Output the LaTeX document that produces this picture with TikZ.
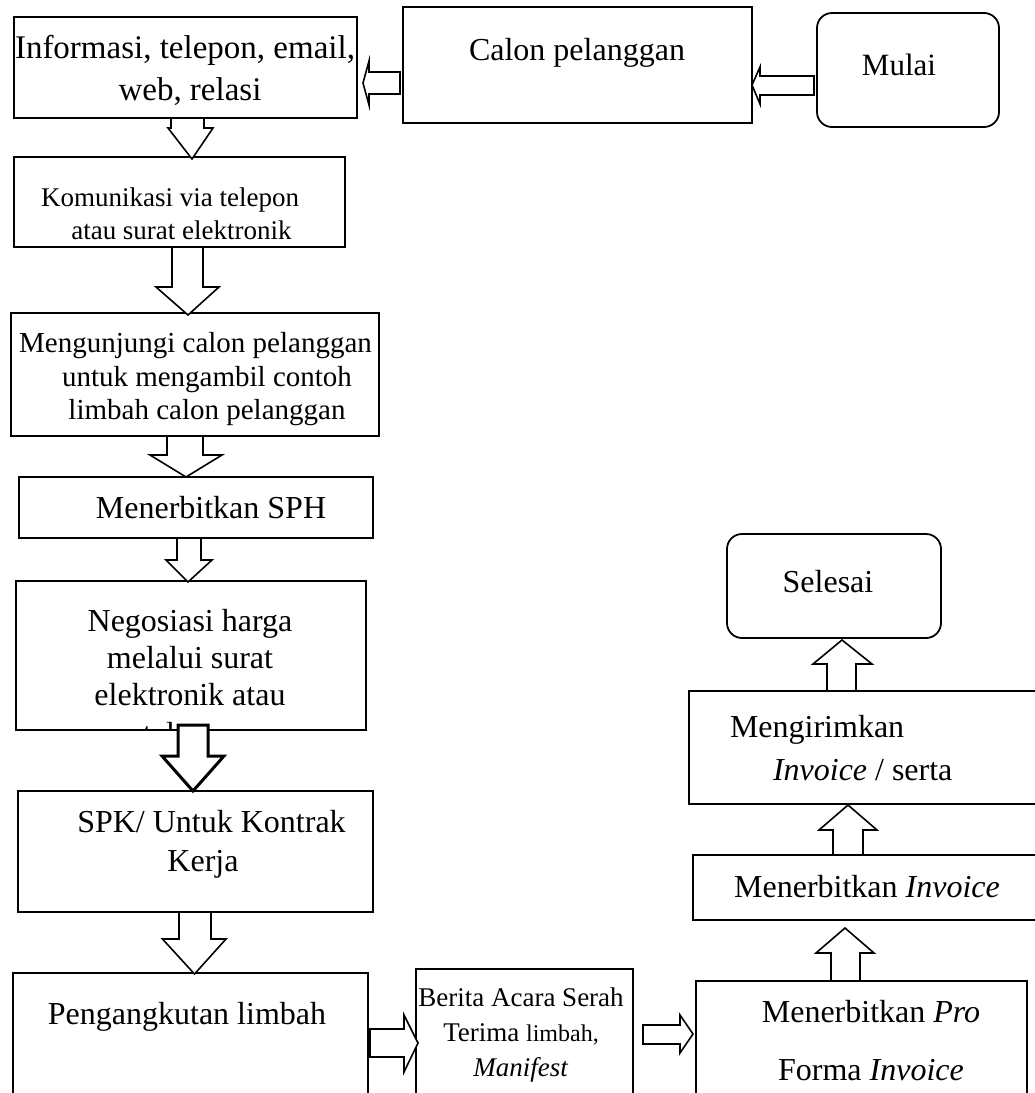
\documentclass[tikz,border=0pt]{standalone}
\usepackage{fontspec}
\setmainfont{Liberation Serif}
\usetikzlibrary{calc}
\tikzset{
  box/.style={draw, line width=1.8pt, inner sep=0pt, outer sep=0pt},
  rbox/.style={box, rounded corners=15pt},
  blk/.style={draw, fill=white, line width=1.6pt},
  blkthick/.style={blk, line width=3pt},
  txt/.style={inner sep=0pt, outer sep=0pt, align=center},
}
% down block arrow: A, B, shaft-left, shaft-right, start-dy, neck-dy, head-left, head-right, tip offset
\newcommand\myDn[9]{%
  ($(#1.south)+(#3,#5)$) -- ($(#1.south)+(#3,#6)$) -- ($(#1.south)+(#7,#6)$) --
  ($(#2.north)+(#9)$) -- ($(#1.south)+(#8,#6)$) -- ($(#1.south)+(#4,#6)$) --
  ($(#1.south)+(#4,#5)$) -- cycle}
% up block arrow
\newcommand\myUp[9]{%
  ($(#1.north)+(#3,#5)$) -- ($(#1.north)+(#3,#6)$) -- ($(#1.north)+(#7,#6)$) --
  ($(#2.south)+(#9)$) -- ($(#1.north)+(#8,#6)$) -- ($(#1.north)+(#4,#6)$) --
  ($(#1.north)+(#4,#5)$) -- cycle}
% left block arrow: A, B, start-dx, shaft-top, shaft-bottom, neck-dx, head-top, head-bottom, tip offset
\newcommand\myLt[9]{%
  ($(#1.west)+(#3,#4)$) -- ($(#1.west)+(#6,#4)$) -- ($(#1.west)+(#6,#7)$) --
  ($(#2.east)+(#9)$) -- ($(#1.west)+(#6,#8)$) -- ($(#1.west)+(#6,#5)$) --
  ($(#1.west)+(#3,#5)$) -- cycle}
% right block arrow
\newcommand\myRt[9]{%
  ($(#1.east)+(#3,#4)$) -- ($(#1.east)+(#6,#4)$) -- ($(#1.east)+(#6,#7)$) --
  ($(#2.west)+(#9)$) -- ($(#1.east)+(#6,#8)$) -- ($(#1.east)+(#6,#5)$) --
  ($(#1.east)+(#3,#5)$) -- cycle}
\begin{document}
\begin{tikzpicture}[x=1pt,y=1pt]
\useasboundingbox (0,0) rectangle (1035,-1093);
\clip (0,0) rectangle (1035,-1093);
\fill[white] (0,0) rectangle (1035,-1093);

% ---- boxes ----
\node[box, minimum width=343pt, minimum height=101pt] (info) at (185.5,-67.5) {};
\node[box, minimum width=349pt, minimum height=116pt] (calon) at (577.5,-65) {};
\node[rbox, minimum width=182pt, minimum height=114pt] (mulai) at (908,-70) {};
\node[box, minimum width=331pt, minimum height=90pt] (kom) at (179.5,-202) {};
\node[box, minimum width=368pt, minimum height=123pt] (meng) at (195,-374.5) {};
\node[box, minimum width=354pt, minimum height=61pt] (sph) at (196,-507.5) {};
\node[box, minimum width=350pt, minimum height=149pt] (nego) at (191,-655.5) {};
\node[box, minimum width=355pt, minimum height=121pt] (spk) at (195.5,-851.5) {};
\node[box, minimum width=355pt, minimum height=137pt] (peng) at (190.5,-1041.5) {};
\node[box, minimum width=217pt, minimum height=141pt] (berita) at (524.5,-1039.5) {};
\node[box, minimum width=331pt, minimum height=129pt] (pro) at (861.5,-1045.5) {};
\node[box, minimum width=352pt, minimum height=65pt] (minv) at (869,-887.5) {};
\node[box, minimum width=356pt, minimum height=113pt] (mkir) at (867,-747.5) {};
\node[rbox, minimum width=214pt, minimum height=104pt] (sel) at (834,-586) {};

% ---- texts ----
\node[txt, font=\fontsize{33}{42}\selectfont] (tinfo) at (185,-70)
  {Informasi, telepon, email,\\\hspace*{10pt}web, relasi};
\node[txt, font=\fontsize{32}{37}\selectfont] (tcalon) at (577,-53) {Calon pelanggan};
\node[txt, font=\fontsize{31}{37}\selectfont] (tmulai) at (899,-65) {Mulai};
\node[txt, font=\fontsize{27}{33}\selectfont] (tkom) at (170,-213.5)
  {Komunikasi via telepon\\\hspace*{23pt}atau surat elektronik};
\node[txt, font=\fontsize{29}{33.5}\selectfont] (tmeng) at (195.5,-379.5)
  {Mengunjungi calon pelanggan\\\hspace*{23pt}untuk mengambil contoh\\\hspace*{23pt}limbah calon pelanggan};
\node[txt, font=\fontsize{32}{37}\selectfont] (tsph) at (211,-508) {Menerbitkan SPH};
\begin{scope}
  \clip (nego.south west) rectangle (nego.north east);
  \node[txt, font=\fontsize{32}{37}\selectfont] (tnego) at (190,-680)
    {Negosiasi harga\\melalui surat\\elektronik atau\\[2pt]telepon};
\end{scope}
\node[txt, font=\fontsize{32}{39}\selectfont] (tspk) at (203,-844.5)
  {\hspace*{17pt}SPK/ Untuk Kontrak\\Kerja};
\node[txt, font=\fontsize{32}{37}\selectfont] (tpeng) at (187,-1017) {Pengangkutan limbah};
\node[txt, font=\fontsize{27}{35}\selectfont] (tberita) at (521,-1035)
  {Berita Acara Serah\\Terima {\fontsize{24}{35}\selectfont limbah,}\\\textit{Manifest}};
\node[txt, font=\fontsize{32}{58}\selectfont] (tpro) at (871,-1041)
  {Menerbitkan \textit{Pro}\\Forma \textit{Invoice}};
\node[txt, font=\fontsize{32}{37}\selectfont] (tminv) at (867,-887) {Menerbitkan \textit{Invoice}};
\node[txt, align=left, anchor=west, font=\fontsize{32}{43}\selectfont] (tmkir) at (730,-748.5)
  {Mengirimkan\\\hspace*{43pt}\textit{Invoice} / serta};
\node[txt, font=\fontsize{32}{37}\selectfont] (tsel) at (828,-582) {Selesai};

% ---- block arrows ----
\draw[blk] \myLt{mulai}{calon}{-3}{-6}{-25}{-57}{3}{-34}{0,-20};
\draw[blk] \myLt{calon}{info}{-3}{-7}{-29}{-34}{4}{-40}{6,-15.5};
\draw[blk] \myDn{info}{kom}{-14.5}{18.5}{0}{-10}{-17.5}{27.5}{12.5,-2};
\draw[blk] \myDn{kom}{meng}{-7.5}{23.5}{0}{-40}{-23.5}{39.5}{-7,-2};
\draw[blk] \myDn{meng}{sph}{-28}{8}{0}{-19}{-45}{27}{-10,0};
\draw[blk] \myDn{sph}{nego}{-19}{5}{0}{-22}{-30}{16}{-3,-1};
\draw[blkthick] \myDn{nego}{spk}{-13}{17}{5}{-26}{-29}{33}{-2.5,0};
\draw[blk] \myDn{spk}{peng}{-16.5}{15.5}{0}{-27}{-33}{30.5}{4,-1};
\draw[blk] \myRt{peng}{berita}{2}{12.5}{-15.5}{36}{26.5}{-30.5}{2,-3.5};
\draw[blk] \myRt{berita}{pro}{10}{14.5}{-4.5}{47}{24.5}{-13.5}{-3,11.5};
\draw[blk] \myUp{pro}{minv}{-30.5}{-1.5}{0}{28}{-45.5}{12.5}{-24,-8};
\draw[blk] \myUp{minv}{mkir}{-36}{-6}{0}{25}{-50}{8}{-19,-1};
\draw[blk] \myUp{mkir}{sel}{-40}{-11}{0}{27}{-54}{5}{8,-2};
\end{tikzpicture}
\end{document}
